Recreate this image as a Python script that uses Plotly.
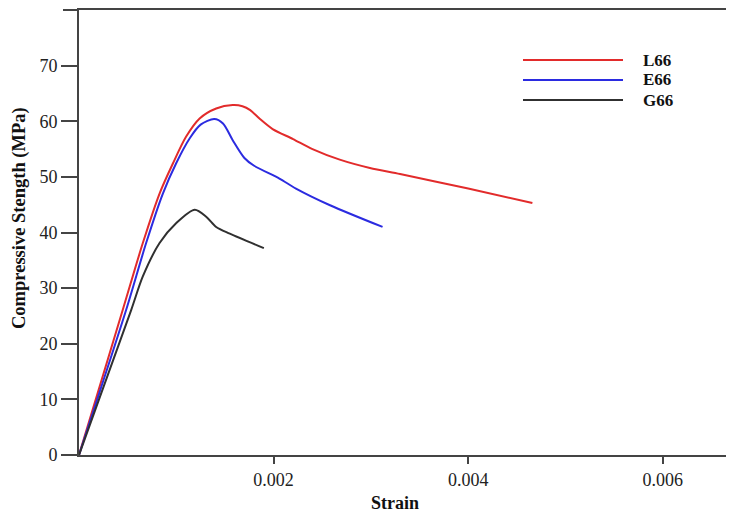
import plotly.graph_objects as go

# ---- data ----
l66_strain = [0, 0.00045, 0.000656, 0.000828, 0.000965, 0.00110, 0.00124,
              0.00141, 0.00158, 0.00168, 0.00176, 0.00186, 0.00199, 0.00220, 0.00240,
              0.00268, 0.00299, 0.00330, 0.00400, 0.00466]
l66_stress = [0, 26.1, 38.1, 47.0, 52.4, 57.2, 60.5,
              62.3, 62.9, 62.7, 62.0, 60.4, 58.6, 56.8, 55.0,
              53.1, 51.6, 50.5, 47.9, 45.3]

e66_strain = [0, 0.000485, 0.00069, 0.000862, 0.00100, 0.00114, 0.00125, 0.00139,
              0.00148, 0.00158, 0.00170, 0.00180, 0.00206, 0.00223, 0.00258, 0.00312]
e66_stress = [0, 26.1, 38.1, 47.0, 52.5, 57.0, 59.4, 60.4,
              59.6, 56.6, 53.4, 52.0, 49.7, 47.9, 44.9, 41.0]

g66_strain = [0, 0.000537, 0.000656, 0.000828, 0.00100, 0.00119, 0.00131,
              0.00141, 0.00155, 0.00190]
g66_stress = [0, 26.1, 32.1, 38.1, 41.7, 44.1, 42.8,
              41.0, 39.8, 37.2]

series_names = ["L66", "E66", "G66"]
series_colors = ["#e22b2b", "#2b2be0", "#303030"]

x_ticks = [0.002, 0.004, 0.006]
x_tick_labels = ["0.002", "0.004", "0.006"]
y_ticks = [0, 10, 20, 30, 40, 50, 60, 70]

# ---- figure ----
fig = go.Figure()
for name, xs, ys, col in zip(series_names,
                             [l66_strain, e66_strain, g66_strain],
                             [l66_stress, e66_stress, g66_stress],
                             series_colors):
    fig.add_trace(go.Scatter(x=xs, y=ys, mode="lines", name=name,
                             line=dict(color=col, width=2, shape="spline", smoothing=0.8),
                             showlegend=False))

font_family = "Liberation Serif, Times New Roman, serif"
axis_col = "#444444"
# the page body adds an 8px offset; figure is sized so that the page matches 734x515
OFF = 8
W, H = 734 - OFF, 515 - OFF
ML, MR, MT, MB = 71, 8, 2, 60
plot_w = W - ML - MR
plot_h = H - MT - MB

fig.update_layout(
    width=W, height=H,
    margin=dict(l=ML, r=MR, t=MT, b=MB, autoexpand=False),
    paper_bgcolor="white", plot_bgcolor="white",
    font=dict(family=font_family, size=18, color="#222222"),
    xaxis=dict(range=[0, 0.00665], tickvals=x_ticks, ticktext=x_tick_labels,
               ticks="outside", ticklen=7, tickwidth=1.5, tickcolor=axis_col,
               showline=True, linecolor=axis_col, linewidth=2, mirror=True,
               showgrid=False, zeroline=False, automargin=False),
    yaxis=dict(range=[0, 80], tickvals=y_ticks,
               ticks="outside", ticklen=16, tickwidth=1.5, tickcolor=axis_col,
               showline=True, linecolor=axis_col, linewidth=2, mirror=True,
               showgrid=False, zeroline=False, automargin=False),
)

# top border extends left over the tick area
fig.add_shape(type="line", xref="paper", yref="paper", x0=-16/plot_w, x1=0, y0=1, y1=1,
              line=dict(color=axis_col, width=2))

def px_x(p):  # page pixel -> paper fraction
    return (p - OFF - ML) / plot_w

def px_y(p):
    return 1 - (p - OFF - MT) / plot_h

# axis titles
fig.add_annotation(xref="paper", yref="paper", x=px_x(395), y=px_y(503),
                   text="<b>Strain</b>", showarrow=False,
                   xanchor="center", yanchor="middle",
                   font=dict(family=font_family, size=18, color="#111111"))
fig.add_annotation(xref="paper", yref="paper", x=px_x(19), y=px_y(218),
                   text="<b>Compressive Stength (MPa)</b>", showarrow=False, textangle=-90,
                   xanchor="center", yanchor="middle",
                   font=dict(family=font_family, size=18.5, color="#111111"))

# manual legend (long sample lines as in the reference)
leg_y = [60, 80, 100]  # page pixel rows
for name, col, py in zip(series_names, series_colors, leg_y):
    fig.add_shape(type="line", xref="paper", yref="paper",
                  x0=px_x(523), x1=px_x(623), y0=px_y(py), y1=px_y(py),
                  line=dict(color=col, width=2))
    fig.add_annotation(xref="paper", yref="paper", x=px_x(641), y=px_y(py),
                       text="<b>" + name + "</b>", showarrow=False,
                       xanchor="left", yanchor="middle",
                       font=dict(family=font_family, size=17, color="#111111"))

fig.write_html("out.html")
